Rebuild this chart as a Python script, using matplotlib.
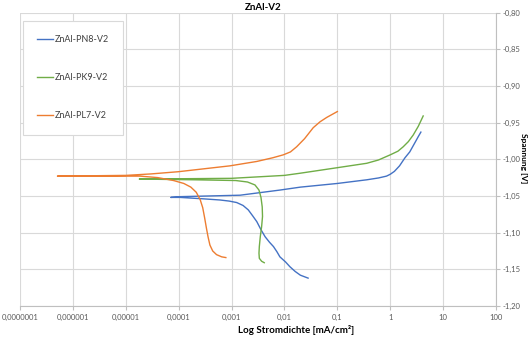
import numpy as np
import matplotlib
matplotlib.use("Agg")
import matplotlib.pyplot as plt
from matplotlib.ticker import FixedLocator, LogLocator, NullFormatter

plt.rcParams['font.family'] = ['Lato', 'DejaVu Sans']

# data (current density in mA/cm2, potential in V)
# each series: cathodic end -> corrosion tip -> anodic end
pn8_i = [0.028, 0.02, 0.016, 0.0127, 0.0105, 8.2e-3, 7.2e-3, 6.2e-3, 5.2e-3, 4.3e-3, 3.6e-3, 3.0e-3,
         2.5e-3, 2.07e-3, 1.65e-3, 1.25e-3, 9e-4, 6.0e-4, 3e-4, 1.06e-4, 7.1e-5,
         1.06e-4, 1.45e-3, 8.2e-3, 0.02, 0.1, 0.36, 0.6, 0.85, 1.0, 1.2, 1.5, 1.9, 2.34, 2.9, 3.4, 3.8]
pn8_u = [-1.162, -1.158, -1.153, -1.1465, -1.140, -1.133, -1.126, -1.119, -1.113, -1.1055, -1.096, -1.085,
         -1.077, -1.069, -1.063, -1.059, -1.057, -1.0555, -1.054, -1.052, -1.052,
         -1.051, -1.049, -1.042, -1.038, -1.033, -1.028, -1.0255, -1.023, -1.0205, -1.0165, -1.009, -0.998,
         -0.990, -0.978, -0.969, -0.963]

pk9_i = [4.15e-3, 3.7e-3, 3.35e-3, 3.3e-3, 3.35e-3, 3.5e-3, 3.7e-3, 3.85e-3, 3.8e-3, 3.6e-3, 3.3e-3,
         2.77e-3, 2.0e-3, 1.2e-3, 2e-4, 1.8e-5,
         1e-3, 0.01, 0.02, 0.1, 0.36, 0.6, 1.0, 1.4, 1.76, 2.2, 2.72, 3.4, 4.2]
pk9_u = [-1.141, -1.139, -1.135, -1.128, -1.119, -1.105, -1.092, -1.078, -1.065, -1.052, -1.042,
         -1.035, -1.031, -1.029, -1.028, -1.027,
         -1.026, -1.022, -1.019, -1.0115, -1.0055, -1.001, -0.994, -0.989, -0.983, -0.976, -0.967, -0.955, -0.941]

pl7_i = [7.8e-4, 6.5e-4, 5.2e-4, 4.4e-4, 3.9e-4, 3.6e-4, 3.35e-4, 3.1e-4, 2.85e-4, 2.55e-4, 2.15e-4,
         1.7e-4, 1.25e-4, 8e-5, 4e-5, 1.86e-5, 5.1e-7,
         1.0e-5, 3.0e-5, 9.8e-5, 9.3e-4, 3.0e-3, 6e-3, 9.5e-3, 0.013, 0.017, 0.024, 0.035, 0.047, 0.063, 0.1]
pl7_u = [-1.134, -1.133, -1.130, -1.125, -1.117, -1.106, -1.094, -1.080, -1.066, -1.055, -1.045,
         -1.038, -1.033, -1.029, -1.025, -1.023, -1.023,
         -1.022, -1.020, -1.017, -1.009, -1.003, -0.998, -0.994, -0.990, -0.983, -0.972, -0.957, -0.949,
         -0.943, -0.935]

series = [("ZnAl-PN8-V2", pn8_i, pn8_u, "#4472C4"),
          ("ZnAl-PK9-V2", pk9_i, pk9_u, "#70AD47"),
          ("ZnAl-PL7-V2", pl7_i, pl7_u, "#ED7D31")]

x_ticks = [1e-7, 1e-6, 1e-5, 1e-4, 1e-3, 1e-2, 1e-1, 1, 10, 100]
x_labels = ["0,0000001", "0,000001", "0,00001", "0,0001", "0,001", "0,01", "0,1", "1", "10", "100"]
y_ticks = [-1.20, -1.15, -1.10, -1.05, -1.00, -0.95, -0.90, -0.85, -0.80]

fig = plt.figure(figsize=(5.32, 3.40), dpi=100)
ax = fig.add_axes([20/532, 34/340, 476/532, 293.5/340])

for name, i, u, c in series:
    ax.plot(i, u, color=c, linewidth=1.0, label=name)

ax.set_xscale("log")
ax.set_xlim(1e-7, 100)
ax.set_ylim(-1.20, -0.80)
ax.xaxis.set_major_locator(FixedLocator(x_ticks))
ax.set_xticklabels(x_labels)
ax.xaxis.set_minor_locator(LogLocator(base=10, subs=np.arange(2, 10)))
ax.xaxis.set_minor_formatter(NullFormatter())
ax.yaxis.tick_right()
ax.set_yticks(y_ticks)
ax.set_yticklabels([("%.2f" % v).replace(".", ",") for v in y_ticks])

ax.grid(True, which="major", color="#d9d9d9", linewidth=0.8)
ax.set_axisbelow(True)
for s in ["left", "top"]:
    ax.spines[s].set_visible(False)
for s in ["bottom", "right"]:
    ax.spines[s].set_color("#bfbfbf")
    ax.spines[s].set_linewidth(0.8)
ax.tick_params(axis="both", which="major", length=3, color="#bfbfbf", labelsize=5.5, labelcolor="#595959")
ax.tick_params(axis="x", which="minor", length=2, color="#bfbfbf")
ax.tick_params(axis="x", pad=3)
ax.tick_params(axis="y", pad=2)

fig.text(263/532, 1 - 8/340, "ZnAl-V2", ha="center", va="center", fontsize=7, fontweight="bold")
fig.text(296/532, 1 - 330/340, "Log Stromdichte [mA/cm²]", ha="center", va="center", fontsize=7, fontweight="bold")
fig.text(524/532, 1 - 158/340, "Spannung [V]", ha="center", va="center", rotation=-90, fontsize=6, fontweight="bold")

leg = ax.legend(loc="upper left", bbox_to_anchor=(23/532, 1 - 21/340), bbox_transform=fig.transFigure,
                fontsize=6.5, labelspacing=3.2, borderpad=1.6, handlelength=1.7, handletextpad=0.2,
                fancybox=False, framealpha=1, edgecolor="#d9d9d9", borderaxespad=0)
leg.get_frame().set_linewidth(0.8)
for t in leg.get_texts():
    t.set_color("#404040")

plt.savefig("out.png", dpi=100)
